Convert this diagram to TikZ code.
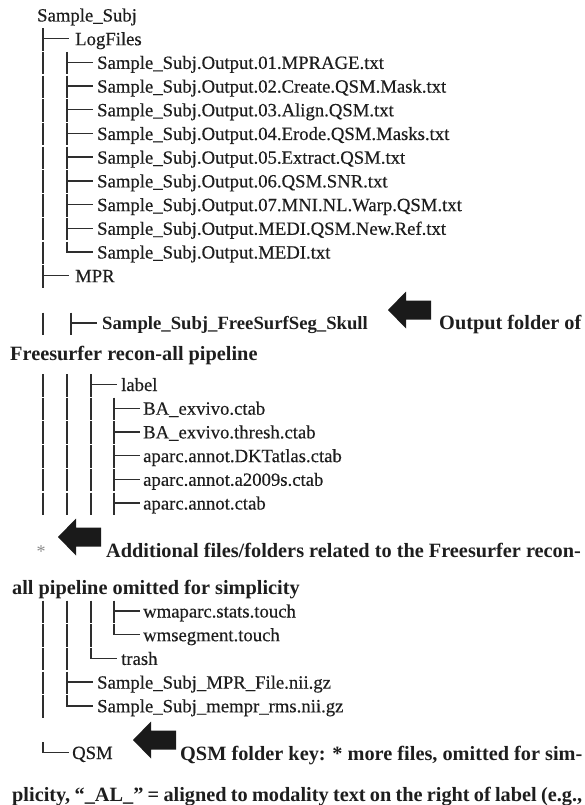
\documentclass[tikz,border=0pt]{standalone}
\usepackage{fontspec}
\setmainfont{Liberation Serif}
\newfontfamily\treefam[FakeBold=0.35]{Liberation Serif}
\definecolor{txtc}{HTML}{1E1E1E}
\definecolor{linec}{HTML}{2E2E2E}
\definecolor{arrc}{HTML}{1A1A1A}
\newcommand\trf{\treefam\fontsize{18.7}{22}\selectfont}
\newcommand\trbf{\fontsize{18.7}{22}\selectfont\bfseries}
\newcommand\parf{\fontsize{20.3}{24}\selectfont\bfseries}
\newcommand\tI[2]{\draw[trl] (#1,#2-11.5) -- (#1,#2+11);}
\newcommand\tT[2]{\draw[trl] (#1,#2-11.5) -- (#1,#2+11); \draw[trl] (#1,#2-1) -- ++(26,0);}
\newcommand\tL[2]{\draw[trl] (#1,#2-11.5) -- (#1,#2-1) -- ++(26,0);}
\newcommand\blockarrow[2]{\fill[arrc] (#1,#2) -- ++(18,-18.5) -- ++(0,9) -- ++(25,0) -- ++(0,19) -- ++(-25,0) -- ++(0,9) -- cycle;}
\begin{document}
\begin{tikzpicture}[x=1pt,y=-1pt,
  trl/.style={draw=linec,line width=1.4pt},
  tx/.style={anchor=base west,inner sep=0pt,font=\trf,text=txtc},
  txb/.style={anchor=base west,inner sep=0pt,font=\trbf,text=txtc},
  ptx/.style={anchor=base west,inner sep=0pt,font=\parf,text=txtc}]
\useasboundingbox (0,0) rectangle (584,805);
\fill[white] (0,0) rectangle (584,805);
% root and LogFiles
\node[tx] (root) at (37,21.5) {Sample\_Subj};
\tT{43}{39.7}
\node[tx] (logf) at (75,45.2) {LogFiles};
% log files
\foreach \c/\t [count=\i] in {63.4/01.MPRAGE, 87.1/02.Create.QSM.Mask, 110.8/03.Align.QSM, 134.5/04.Erode.QSM.Masks, 158.2/05.Extract.QSM, 181.9/06.QSM.SNR, 205.6/07.MNI.NL.Warp.QSM, 229.3/MEDI.QSM.New.Ref}{
  \tI{43}{\c} \tT{67}{\c}
  \node[tx] (log\i) at (97,\c+5.5) {Sample\_Subj.Output.\t.txt};
}
\tI{43}{253} \tL{67}{253}
\node[tx] (log9) at (97,258.5) {Sample\_Subj.Output.MEDI.txt};
% MPR
\tT{43}{276.7}
\node[tx] (mpr) at (75,282.2) {MPR};
% FreeSurf
\tI{43}{324} \tT{71}{324}
\node[txb] (fs) at (102,329) {Sample\_Subj\_FreeSurfSeg\_Skull};
\blockarrow{388}{310}
\node[ptx] (note1a) at (439,329) {Output folder of};
\node[ptx] (note1b) at (10,360) {Freesurfer recon-all pipeline};
% label
\tI{43}{385.5} \tI{67}{385.5} \tT{91}{385.5}
\node[tx] (label) at (121,391) {label};
\foreach \c/\t [count=\i] in {409.2/BA\_exvivo.ctab, 432.9/BA\_exvivo.thresh.ctab, 456.6/aparc.annot.DKTatlas.ctab, 480.3/aparc.annot.a2009s.ctab, 504.0/aparc.annot.ctab}{
  \tI{43}{\c} \tI{67}{\c} \tI{91}{\c} \tT{114}{\c}
  \node[tx] (ct\i) at (143,\c+5.5) {\t};
}
% omitted note
\node[anchor=base,inner sep=0pt,font=\fontsize{18}{18}\selectfont,text=black!45] (star) at (41,557) {*};
\blockarrow{58}{537}
\node[ptx] (note2a) at (106,557) {Additional files/folders related to the Freesurfer recon-};
\node[ptx] (note2b) at (12,594) {all pipeline omitted for simplicity};
% wm files
\tI{43}{612} \tI{67}{612} \tI{91}{612} \tT{114}{612}
\node[tx] (wm1) at (143,617.5) {wmaparc.stats.touch};
\tI{43}{635.7} \tI{67}{635.7} \tI{91}{635.7} \tL{114}{635.7}
\node[tx] (wm2) at (143,641.2) {wmsegment.touch};
\tI{43}{659.4} \tI{67}{659.4} \tL{91}{659.4}
\node[tx] (trash) at (121,664.9) {trash};
\tI{43}{683.1} \tT{67}{683.1}
\node[tx] (mprf) at (97,688.6) {Sample\_Subj\_MPR\_File.nii.gz};
\tI{43}{706.8} \tL{67}{706.8}
\node[tx] (memp) at (97,712.3) {Sample\_Subj\_mempr\_rms.nii.gz};
% QSM
\tL{43}{753.5}
\node[tx] (qsm) at (72,759) {QSM};
\blockarrow{133}{740}
\node[ptx] (note3a) at (180,760) {QSM folder key: * more files, omitted for sim-};
\node[ptx] (note3b) at (12,801) {\makebox[570pt][s]{plicity, “\_AL\_” = aligned to modality text on the right of label (e.g.,}};
\end{tikzpicture}
\end{document}
